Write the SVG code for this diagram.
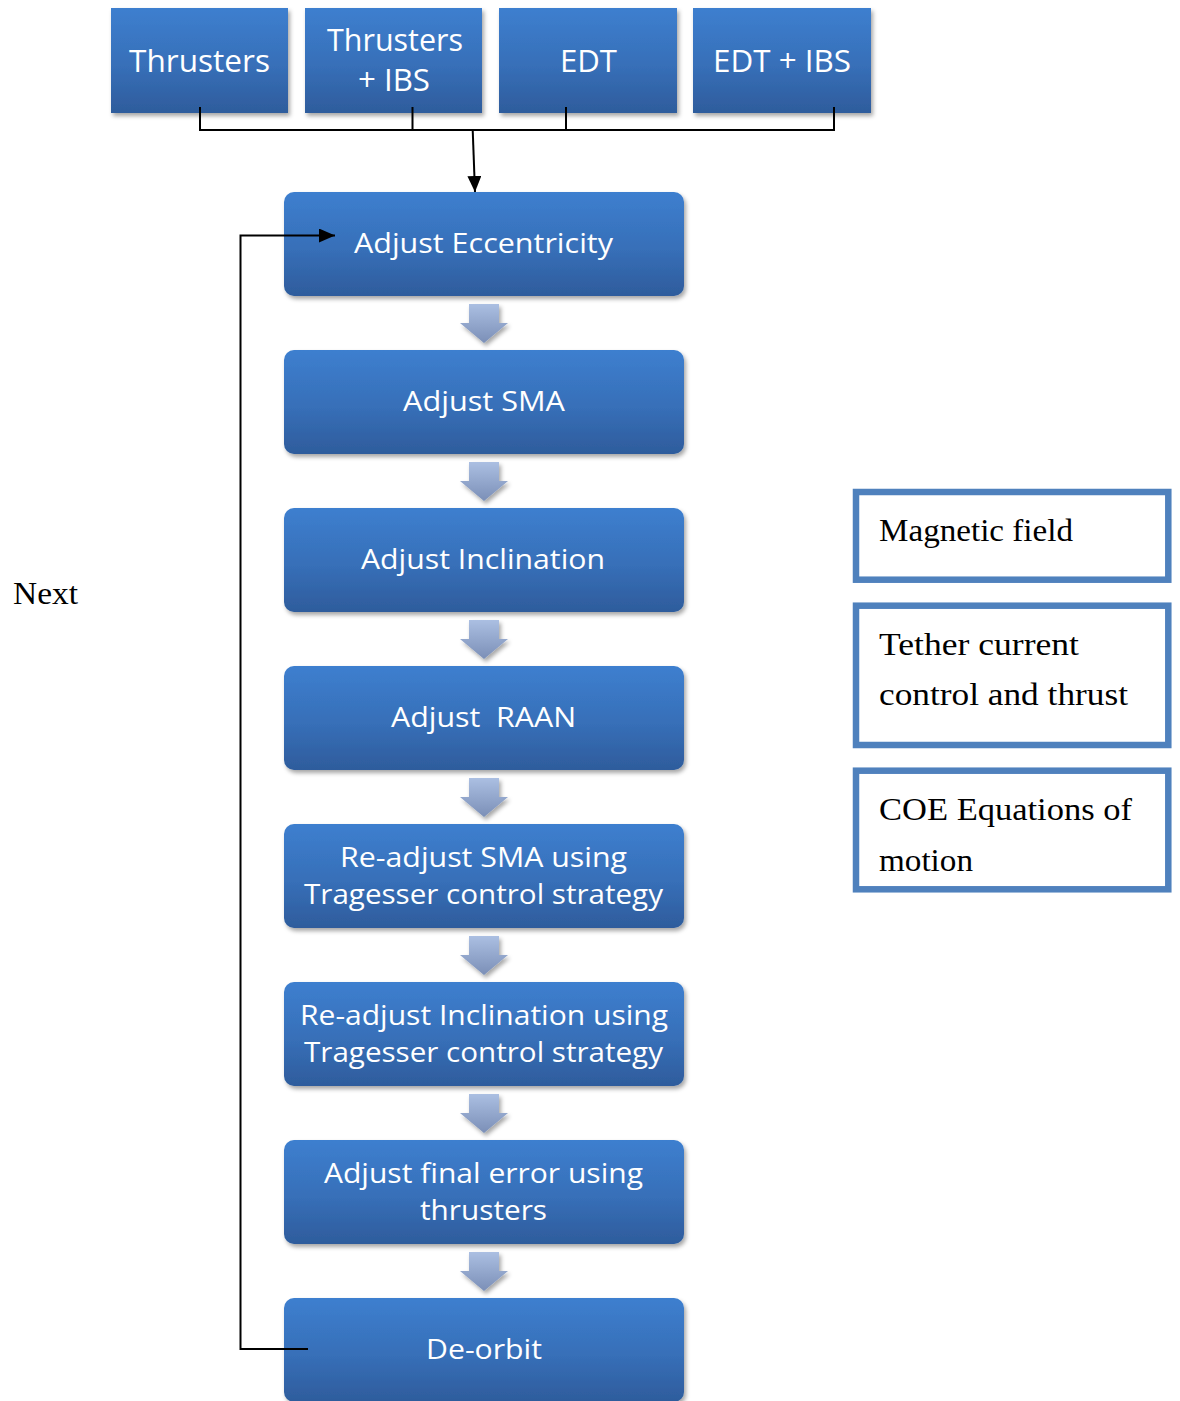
<svg xmlns="http://www.w3.org/2000/svg" width="1180" height="1401" viewBox="0 0 1180 1401">
  <defs>
    <linearGradient id="boxFill" x1="0" y1="0" x2="0" y2="1">
      <stop offset="0" stop-color="#3d7fcf"/>
      <stop offset="0.55" stop-color="#376fb8"/>
      <stop offset="1" stop-color="#2e5c9c"/>
    </linearGradient>
    <linearGradient id="stepFill" x1="0" y1="0" x2="0" y2="1">
      <stop offset="0" stop-color="#abbfe2"/>
      <stop offset="1" stop-color="#7b8fb7"/>
    </linearGradient>
    <filter id="shadow" x="-10%" y="-10%" width="125%" height="135%">
      <feDropShadow dx="2" dy="3" stdDeviation="2" flood-color="#000" flood-opacity="0.35"/>
    </filter>
    <marker id="arrow" viewBox="0 0 16 14" refX="16" refY="7" markerWidth="16" markerHeight="14" markerUnits="userSpaceOnUse" orient="auto">
      <path d="M0,0 L16,7 L0,14 Z" fill="#000"/>
    </marker>
    <path id="step" d="M-15,0 H15 V19 H24 L0,39 L-24,19 H-15 Z"/>
  </defs>
  <style>
    .box { fill: url(#boxFill); filter: url(#shadow); }
    .lbl { font-family: "Open Sans", "Liberation Sans", sans-serif; fill: #fff; text-anchor: middle; }
    .top { font-size: 31px; }
    .main { font-size: 28px; }
    .note { fill: #fff; stroke: #4f81bd; stroke-width: 6.5; }
    .serif { font-family: "Liberation Serif", "DejaVu Serif", serif; font-size: 31px; fill: #000; }
    .wire { fill: none; stroke: #000; stroke-width: 2; }
    .stepArrow { fill: url(#stepFill); filter: url(#shadow); }
  </style>

  <rect width="1180" height="1401" fill="#fff"/>

  <!-- propulsion options -->
  <g id="opt-thrusters">
    <rect class="box" x="111" y="8" width="177" height="105"/>
    <text class="lbl top" x="199.5" y="72" textLength="141" lengthAdjust="spacingAndGlyphs">Thrusters</text>
  </g>
  <g id="opt-thrusters-ibs">
    <rect class="box" x="305" y="8" width="177" height="105"/>
    <text class="lbl top" x="395" y="51" textLength="136" lengthAdjust="spacingAndGlyphs">Thrusters</text>
    <text class="lbl top" x="394" y="91" textLength="72" lengthAdjust="spacingAndGlyphs">+ IBS</text>
  </g>
  <g id="opt-edt">
    <rect class="box" x="499" y="8" width="178" height="105"/>
    <text class="lbl top" x="588.5" y="72" textLength="57" lengthAdjust="spacingAndGlyphs">EDT</text>
  </g>
  <g id="opt-edt-ibs">
    <rect class="box" x="693" y="8" width="178" height="105"/>
    <text class="lbl top" x="782" y="72" textLength="138" lengthAdjust="spacingAndGlyphs">EDT + IBS</text>
  </g>

  <!-- step-to-step arrows -->
  <g id="steps">
    <use href="#step" class="stepArrow" x="484" y="304"/>
    <use href="#step" class="stepArrow" x="484" y="462"/>
    <use href="#step" class="stepArrow" x="484" y="620"/>
    <use href="#step" class="stepArrow" x="484" y="778"/>
    <use href="#step" class="stepArrow" x="484" y="936"/>
    <use href="#step" class="stepArrow" x="484" y="1094"/>
    <use href="#step" class="stepArrow" x="484" y="1252"/>
  </g>

  <!-- manoeuvre sequence -->
  <g id="step-ecc">
    <rect class="box" x="284" y="192" width="400" height="104" rx="10"/>
    <text class="lbl main" x="483.5" y="253" textLength="259" lengthAdjust="spacingAndGlyphs">Adjust Eccentricity</text>
  </g>
  <g id="step-sma">
    <rect class="box" x="284" y="350" width="400" height="104" rx="10"/>
    <text class="lbl main" x="484" y="411" textLength="162" lengthAdjust="spacingAndGlyphs">Adjust SMA</text>
  </g>
  <g id="step-inc">
    <rect class="box" x="284" y="508" width="400" height="104" rx="10"/>
    <text class="lbl main" x="483" y="569" textLength="244" lengthAdjust="spacingAndGlyphs">Adjust Inclination</text>
  </g>
  <g id="step-raan">
    <rect class="box" x="284" y="666" width="400" height="104" rx="10"/>
    <text class="lbl main" x="483.5" y="727" textLength="185" lengthAdjust="spacingAndGlyphs" xml:space="preserve">Adjust  RAAN</text>
  </g>
  <g id="step-resma">
    <rect class="box" x="284" y="824" width="400" height="104" rx="10"/>
    <text class="lbl main" x="483.5" y="867" textLength="287" lengthAdjust="spacingAndGlyphs">Re-adjust SMA using</text>
    <text class="lbl main" x="483.5" y="904" textLength="359" lengthAdjust="spacingAndGlyphs">Tragesser control strategy</text>
  </g>
  <g id="step-reinc">
    <rect class="box" x="284" y="982" width="400" height="104" rx="10"/>
    <text class="lbl main" x="484" y="1025" textLength="368" lengthAdjust="spacingAndGlyphs">Re-adjust Inclination using</text>
    <text class="lbl main" x="483.5" y="1062" textLength="359" lengthAdjust="spacingAndGlyphs">Tragesser control strategy</text>
  </g>
  <g id="step-final">
    <rect class="box" x="284" y="1140" width="400" height="104" rx="10"/>
    <text class="lbl main" x="483.5" y="1183" textLength="319" lengthAdjust="spacingAndGlyphs">Adjust final error using</text>
    <text class="lbl main" x="483.5" y="1220" textLength="127" lengthAdjust="spacingAndGlyphs">thrusters</text>
  </g>
  <g id="step-deorbit">
    <rect class="box" x="284" y="1298" width="400" height="104" rx="10"/>
    <text class="lbl main" x="484" y="1359" textLength="116" lengthAdjust="spacingAndGlyphs">De-orbit</text>
  </g>

  <!-- connectors -->
  <g id="connectors">
    <path class="wire" d="M200,107 V130 H834 V107 M412.5,107 V130 M566,107 V130"/>
    <path class="wire" d="M472.7,130 L475,192" marker-end="url(#arrow)"/>
    <path class="wire" d="M308,1349 H240.5 V235.5 H335" marker-end="url(#arrow)"/>
  </g>

  <text id="next-label" class="serif" x="13" y="604" font-size="25" textLength="65" lengthAdjust="spacingAndGlyphs">Next</text>

  <!-- model blocks -->
  <g id="model-magnetic">
    <rect class="note" x="856" y="492" width="312.3" height="87.7"/>
    <text class="serif" x="879" y="541" textLength="194" lengthAdjust="spacingAndGlyphs">Magnetic field</text>
  </g>
  <g id="model-tether">
    <rect class="note" x="856" y="605.7" width="312.3" height="139.3"/>
    <text class="serif" x="879" y="654.5" textLength="200" lengthAdjust="spacingAndGlyphs">Tether current</text>
    <text class="serif" x="879" y="705" textLength="249" lengthAdjust="spacingAndGlyphs">control and thrust</text>
  </g>
  <g id="model-coe">
    <rect class="note" x="856" y="770.7" width="312.3" height="118.6"/>
    <text class="serif" x="879" y="820" textLength="253" lengthAdjust="spacingAndGlyphs">COE Equations of</text>
    <text class="serif" x="879" y="871" textLength="94" lengthAdjust="spacingAndGlyphs">motion</text>
  </g>
</svg>
